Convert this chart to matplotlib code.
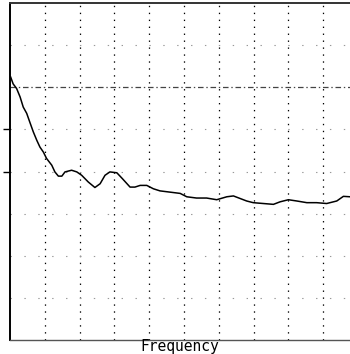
import matplotlib
matplotlib.use("Agg")
import matplotlib.pyplot as plt

plt.rcParams['lines.scale_dashes'] = False

# Curve readings (x in grid divisions, y in grid divisions)
freq = [0.02, 0.09, 0.19, 0.29, 0.38, 0.48, 0.57, 0.67, 0.77, 0.86, 0.96, 1.05,
        1.20, 1.29, 1.39, 1.49, 1.58, 1.77, 1.92, 2.06, 2.25, 2.44, 2.59, 2.73,
        2.87, 3.07, 3.23, 3.45, 3.59, 3.74, 3.93, 4.12, 4.31, 4.60, 4.89, 5.08,
        5.36, 5.65, 5.94, 6.23, 6.42, 6.61, 6.80, 6.99, 7.28, 7.57, 7.76, 8.00,
        8.24, 8.53, 8.81, 9.10, 9.39, 9.58, 9.77]
level = [6.24, 6.08, 5.97, 5.77, 5.53, 5.38, 5.17, 4.94, 4.74, 4.58, 4.46, 4.31,
         4.15, 3.99, 3.89, 3.89, 3.99, 4.03, 3.99, 3.91, 3.75, 3.62, 3.71, 3.91,
         3.99, 3.97, 3.83, 3.63, 3.63, 3.67, 3.67, 3.59, 3.54, 3.51, 3.48, 3.40,
         3.37, 3.37, 3.33, 3.40, 3.42, 3.36, 3.30, 3.26, 3.24, 3.22, 3.28, 3.33,
         3.30, 3.26, 3.26, 3.24, 3.30, 3.41, 3.40]

x_grid = [1, 2, 3, 4, 5, 6, 7, 8, 9]
y_grid = [1, 2, 3, 4, 5, 7]
ref_level = 6
y_ticks = [4, 5]
xlabel = "Frequency"

fig = plt.figure(figsize=(3.5, 3.54), dpi=100)
ax = fig.add_axes([10/350, 14/354, 340/350, 337/354])
ax.set_xlim(0, 340/34.8)
ax.set_ylim(0, 8)

for gx in x_grid:
    ax.axvline(gx, color='black', lw=0.9, linestyle=(0, (1, 4)))
for gy in y_grid:
    ax.axhline(gy, color='#999999', lw=0.8, linestyle=(0, (1, 9)))
ax.axhline(ref_level, color='#444444', lw=0.9, linestyle=(0, (4, 2, 1, 2)))

ax.plot(freq, level, color='black', lw=1.1)

ax.set_xticks([])
ax.set_yticks(y_ticks)
ax.set_yticklabels([])
ax.tick_params(axis='y', direction='out', length=5, width=1, color='black')

ax.spines['right'].set_visible(False)
ax.spines['left'].set_linewidth(1.4)
ax.spines['top'].set_linewidth(1.4)
ax.spines['top'].set_color('#333333')
ax.spines['bottom'].set_linewidth(1.0)
ax.spines['bottom'].set_color('#555555')

fig.text(180/350, 1 - 347/354, xlabel, ha='center', va='center',
         family='DejaVu Sans Mono', fontsize=10.5)

fig.savefig('out.png', dpi=100)
